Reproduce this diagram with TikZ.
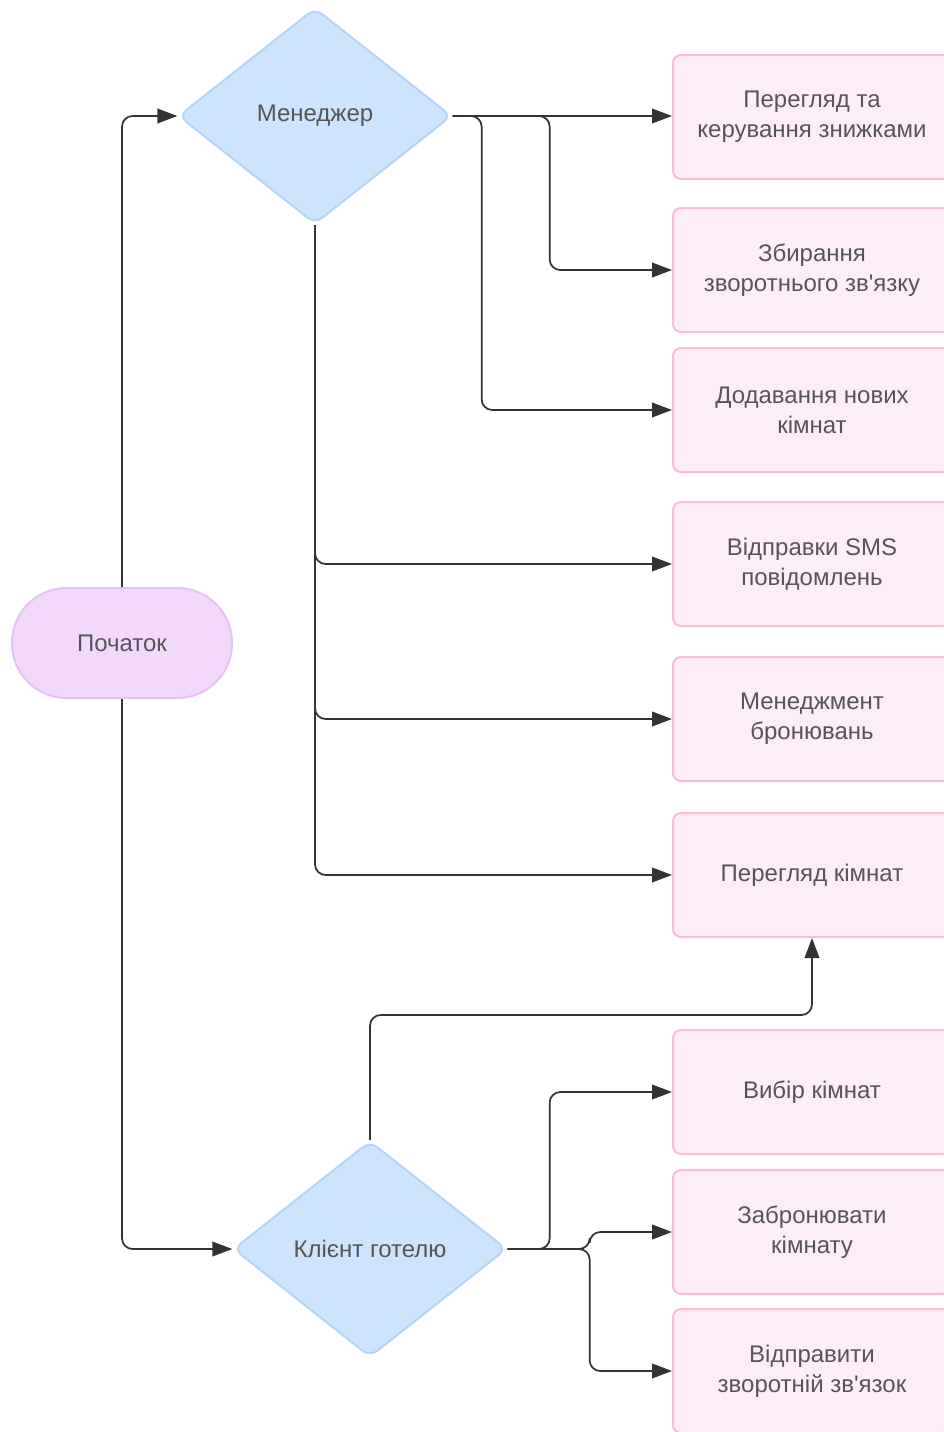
\documentclass[tikz,border=0pt]{standalone}
\usepackage{fontspec}
\setmainfont{Liberation Sans}[Ligatures=TeXOff]
\usepackage{tikz}
\usetikzlibrary{positioning, arrows.meta, shapes.geometric}

\definecolor{roleblue}{HTML}{CCE4FD}
\definecolor{roleedge}{HTML}{B4D5FB}
\definecolor{startfill}{HTML}{F2D9FC}
\definecolor{startedge}{HTML}{E9C0F8}
\definecolor{taskfill}{HTML}{FDEDF7}
\definecolor{taskedge}{HTML}{F9BDD9}
\definecolor{linegray}{HTML}{333333}
\definecolor{textgray}{HTML}{555555}

\begin{document}
\begin{tikzpicture}[x=0.75pt, y=-0.75pt,
	every node/.style={font=\fontsize{18}{22.5}\selectfont, text=textgray, align=center},
	role/.style={diamond, fill=roleblue, draw=roleedge, line width=1.5pt, rounded corners=7pt,
		minimum width=205pt, minimum height=162pt, inner sep=0pt},
	startbox/.style={rectangle, fill=startfill, draw=startedge, line width=1.5pt, rounded corners=41pt,
		minimum width=165pt, minimum height=82.5pt},
	task/.style={rectangle, fill=taskfill, draw=taskedge, line width=1.5pt, rounded corners=6pt,
		minimum width=208.5pt, minimum height=93pt},
	arr/.style={draw=linegray, line width=1.3pt, rounded corners=8pt,
		-{Triangle[length=15pt, width=11pt]}}]
	\useasboundingbox (0,0) rectangle (944,1432);

	% main nodes
	\node[startbox] (start) at (122,643) {Початок};
	\node[role] (mgr) at (315,116) {Менеджер};
	\node[role] (cli) at (370,1249) {Клієнт готелю};

	% manager tasks
	\node[task] (b1) at (812,117) {Перегляд та\\керування знижками};
	\node[task] (b2) at (812,270) {Збирання\\зворотнього зв'язку};
	\node[task] (b3) at (812,410) {Додавання нових\\кімнат};
	\node[task] (b4) at (812,564) {Відправки SMS\\повідомлень};
	\node[task] (b5) at (812,719) {Менеджмент\\бронювань};
	\node[task] (b6) at (812,875) {Перегляд кімнат};

	% client tasks
	\node[task] (b7) at (812,1092) {Вибір кімнат};
	\node[task] (b8) at (812,1232) {Забронювати\\кімнату};
	\node[task] (b9) at (812,1371) {Відправити\\зворотній зв'язок};

	% connectors
	\draw[arr] (start.north) |- (mgr.west);
	\draw[arr] (start.south) |- (cli.west);

	\draw[arr] (mgr.east) -- (mgr.east -| b1.west);
	\draw[arr] (mgr.east) -- ++(97,0) |- (b2.west);
	\draw[arr] (mgr.east) -- ++(29,0) |- (b3.west);
	\draw[arr] (mgr.south) |- (b4.west);
	\draw[arr] (mgr.south) |- (b5.west);
	\draw[arr] (mgr.south) |- (b6.west);

	\draw[arr] (cli.north) -- ++(0,-125) -| (b6.south);
	\draw[arr] (cli.east) -- ++(42,0) |- (b7.west);
	\draw[arr] (cli.east) -- ++(82,0) |- (b8.west);
	\draw[arr] (cli.east) -- ++(82,0) |- (b9.west);
\end{tikzpicture}
\end{document}
